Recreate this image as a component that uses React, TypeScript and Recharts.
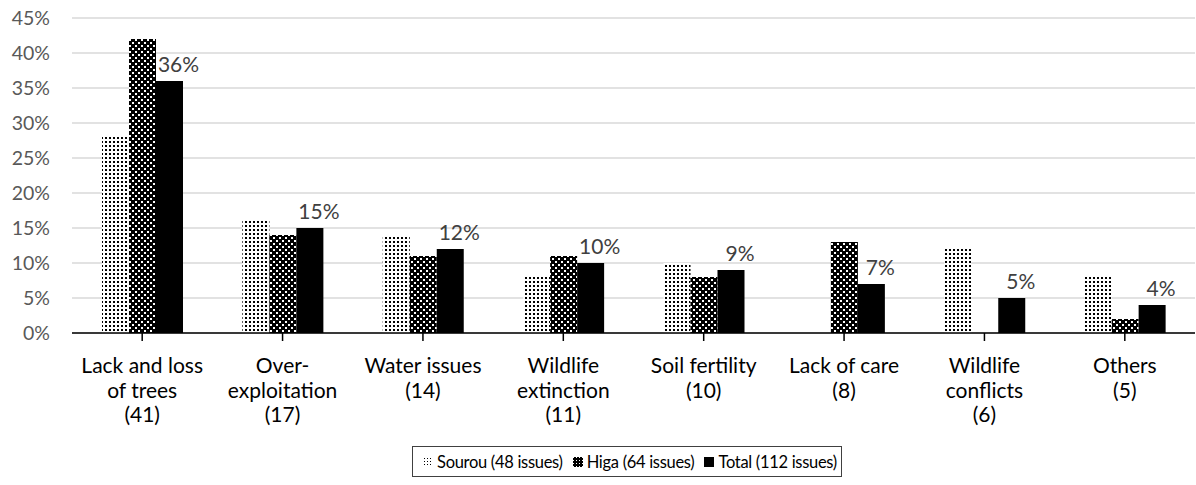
import React from 'react';
import { BarChart, Bar, XAxis, YAxis, CartesianGrid, Legend, LabelList } from 'recharts';

const categories = [
  ['Lack and loss', 'of trees', '(41)'],
  ['Over-', 'exploitation', '(17)'],
  ['Water issues', '(14)'],
  ['Wildlife', 'extinction', '(11)'],
  ['Soil fertility', '(10)'],
  ['Lack of care', '(8)'],
  ['Wildlife', 'conflicts', '(6)'],
  ['Others', '(5)'],
];
const sourou = [28, 16, 14, 8, 10, 0, 12, 8];
const higa = [42, 14, 11, 11, 8, 13, 0, 2];
const total = [36, 15, 12, 10, 9, 7, 5, 4];
const yTicks = [0, 5, 10, 15, 20, 25, 30, 35, 40, 45];

const seriesNames = {
  sourou: 'Sourou (48 issues)',
  higa: 'Higa (64 issues)',
  total: 'Total (112 issues)',
};

const data = categories.map((lines, i) => ({
  name: lines.join('|'),
  sourou: sourou[i],
  higa: higa[i],
  total: total[i],
}));

const FONT = 'Lato, "Open Sans", sans-serif';

const CategoryTick = (props: any) => {
  const { x, y, payload } = props;
  const lines = String(payload.value).split('|');
  return (
    <text x={x} y={y + 30} textAnchor="middle" fill="#000" fontSize={21} fontFamily={FONT}>
      {lines.map((l: string, i: number) => (
        <tspan key={i} x={x} dy={i === 0 ? 0 : 24.5}>{l}</tspan>
      ))}
    </text>
  );
};

const TotalLabel = (props: any) => {
  const { x, y, width, value } = props;
  return (
    <text x={x + width / 2 + 9} y={y - 9} fill="#404040" textAnchor="middle" fontSize={21} fontFamily={FONT}>
      {value}%
    </text>
  );
};

const Swatch = ({ fill }: { fill: string }) => (
  <svg width={10} height={10} style={{ marginRight: 4 }}>
    <rect x={0} y={0} width={10} height={10} fill={fill} />
  </svg>
);

// legend drawn as a bordered box centred under the plot
const LegendBox = () => (
  <div
    style={{
      position: 'absolute',
      left: 0,
      top: 446,
      width: 1254,
      display: 'flex',
      justifyContent: 'center',
      pointerEvents: 'none',
    }}
  >
    <div
      style={{
        height: 31,
        boxSizing: 'border-box',
        border: '1px solid #404040',
        display: 'flex',
        alignItems: 'center',
        padding: '0 4px 0 10px',
        fontFamily: FONT,
        fontSize: 16.5,
        letterSpacing: -0.3,
        color: '#000',
        background: '#fff',
        whiteSpace: 'nowrap',
      }}
    >
      <span style={{ display: 'flex', alignItems: 'center', marginRight: 10 }}>
        <Swatch fill="url(#dotsLegend)" />{seriesNames.sourou}
      </span>
      <span style={{ display: 'flex', alignItems: 'center', marginRight: 10 }}>
        <Swatch fill="url(#checkLegend)" />{seriesNames.higa}
      </span>
      <span style={{ display: 'flex', alignItems: 'center' }}>
        <Swatch fill="#000" />{seriesNames.total}
      </span>
    </div>
  </div>
);

export default function App() {
  return (
    <div style={{ position: 'absolute', left: 0, top: 0, width: 1196, height: 485, background: '#fff', overflow: 'hidden' }}>
      <svg width={0} height={0} style={{ position: 'absolute' }}>
        <defs>
          <pattern id="dotsLegend" patternUnits="userSpaceOnUse" width={3} height={3}>
            <rect width={3} height={3} fill="#fff" />
            <rect x={1} y={1} width={1} height={1} fill="#000" />
          </pattern>
          <pattern id="checkLegend" patternUnits="userSpaceOnUse" width={3} height={3}>
            <rect width={3} height={3} fill="#000" />
            <rect x={0} y={0} width={1} height={1} fill="#fff" />
          </pattern>
        </defs>
      </svg>
      <BarChart
        width={1196}
        height={485}
        data={data}
        margin={{ top: 18, right: 1, left: 0, bottom: 0 }}
        barSize={27}
        barGap={0}
      >
        <defs>
          <pattern id="dots" patternUnits="userSpaceOnUse" width={4} height={4}>
            <rect width={4} height={4} fill="#fff" />
            <rect x={1} y={1} width={2} height={2} fill="#000" />
          </pattern>
          <pattern id="check" patternUnits="userSpaceOnUse" width={6} height={6}>
            <rect width={6} height={6} fill="#000" />
            <rect x={0} y={0} width={2} height={2} fill="#fff" />
            <rect x={3} y={3} width={2} height={2} fill="#fff" />
          </pattern>
        </defs>
        <CartesianGrid vertical={false} stroke="#d9d9d9" strokeWidth={1.5} />
        <XAxis
          dataKey="name"
          interval={0}
          height={152}
          tick={<CategoryTick />}
          axisLine={{ stroke: '#000', strokeWidth: 1.5 }}
          tickLine={{ stroke: '#000', strokeWidth: 1.5 }}
          tickSize={8}
        />
        <YAxis
          width={72}
          domain={[0, 45]}
          ticks={yTicks}
          tickFormatter={(v) => `${v}%`}
          axisLine={false}
          tickLine={false}
          tick={{ fill: '#595959', fontSize: 19.5, fontFamily: FONT }}
          tickMargin={16}
        />
        <Legend content={<LegendBox />} wrapperStyle={{ position: 'absolute', left: 0, top: 0, width: 0, height: 0 }} />
        <Bar dataKey="sourou" name={seriesNames.sourou} fill="url(#dots)" isAnimationActive={false} />
        <Bar dataKey="higa" name={seriesNames.higa} fill="url(#check)" isAnimationActive={false} />
        <Bar dataKey="total" name={seriesNames.total} fill="#000" isAnimationActive={false}>
          <LabelList dataKey="total" content={<TotalLabel />} />
        </Bar>
      </BarChart>
    </div>
  );
}
